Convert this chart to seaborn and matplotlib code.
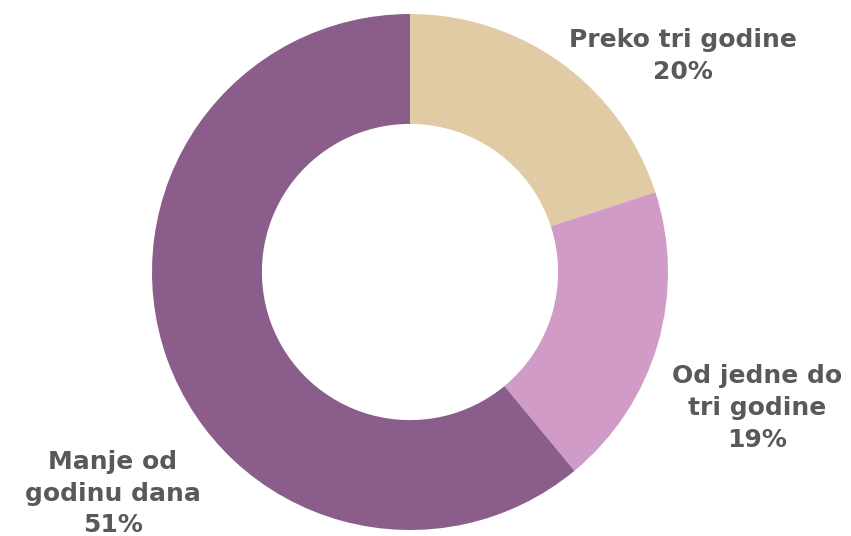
import matplotlib
matplotlib.use("Agg")
import matplotlib.pyplot as plt
import seaborn as sns

# Data (clockwise from 12 o'clock)
categories = ["Preko tri godine", "Od jedne do\ntri godine", "Manje od\ngodinu dana"]
shares = [20, 19, 61]
pct_labels = ["20%", "19%", "51%"]
colors = ["#E0CBA4", "#D09BC6", "#8B5D8A"]

sns.set_theme(style="white")
plt.rcParams["font.family"] = ["DejaVu Sans"]

fig = plt.figure(figsize=(8.51, 5.36), dpi=100)
ax = fig.add_axes([0, 0, 1, 1])

wedges, _ = ax.pie(
    shares,
    colors=colors,
    startangle=90,
    counterclock=False,
    radius=1.0,
    wedgeprops=dict(width=0.426, edgecolor="none"),
)

# label positions (data units, radius = 1)
label_pos = [(1.058, 0.837), (1.345, -0.527), (-1.151, -0.860)]
for (x, y), cat, pct in zip(label_pos, categories, pct_labels):
    ax.text(x, y, f"{cat}\n{pct}", ha="center", va="center",
            fontsize=18, fontweight="heavy", color="#595959", linespacing=1.4)

ax.set_xlim(-410 / 258, (851 - 410) / 258)
ax.set_ylim(-(536 - 272) / 258, 272 / 258)
ax.set_aspect("auto")
ax.axis("off")

fig.savefig("out.png", dpi=100, facecolor="white")
plt.close(fig)
